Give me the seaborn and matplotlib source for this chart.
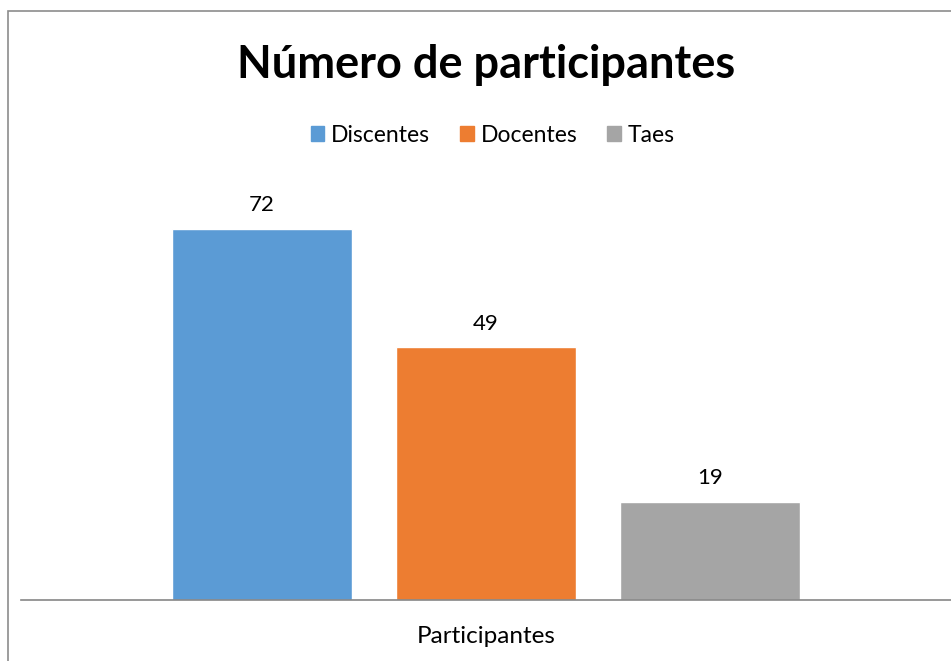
import pandas as pd
import matplotlib.pyplot as plt
import matplotlib.patches as mpatches
import seaborn as sns

# dados
categorias = ["Participantes"]
grupos = ["Discentes", "Docentes", "Taes"]
valores = [72, 49, 19]
cores = ["#5B9BD5", "#ED7D31", "#A5A5A5"]

df = pd.DataFrame({"categoria": categorias * len(grupos), "grupo": grupos, "valor": valores})

sns.set_style("white")
plt.rcParams['font.family'] = ['Lato', 'DejaVu Sans']
plt.rcParams['text.color'] = 'black'
plt.rcParams['xtick.color'] = 'black'

fig = plt.figure(figsize=(9.51, 6.61), dpi=100)
ax = fig.add_axes([21 / 951, 1 - 600 / 661, 930 / 951, 412.4 / 661])

sns.barplot(data=df, x="categoria", y="valor", hue="grupo", palette=cores,
            saturation=1, width=0.7226, gap=0.196, ax=ax, legend=False)

ax.set_ylim(0, 80)
ax.set_xlim(-0.5, 0.5)
for c in ax.containers:
    ax.bar_label(c, padding=10, fontsize=16, color="black")

for s in ["top", "right", "left"]:
    ax.spines[s].set_visible(False)
ax.spines["bottom"].set_color("#868686")
ax.spines["bottom"].set_linewidth(1.2)
ax.set_yticks([])
ax.set_ylabel("")
ax.set_xlabel("")
ax.tick_params(axis="x", length=0, labelsize=17.5, pad=19, labelcolor="black")

fig.text(0.511, 1 - 65 / 661, "Número de participantes", ha="center", va="center",
         fontsize=32.5, fontweight="bold", color="black")

handles = [mpatches.Patch(color=c, label=g) for g, c in zip(grupos, cores)]
fig.legend(handles=handles, loc="center", bbox_to_anchor=(0.518, 1 - 135 / 661), ncol=3,
           frameon=False, fontsize=16.5, handlelength=0.6, handleheight=0.6,
           handletextpad=0.3, columnspacing=1.3, labelcolor="black")

# moldura do gráfico
fig.patches.append(mpatches.Rectangle((8 / 951, -0.1), 1.2, 1 - 11 / 661 + 0.1,
                                      transform=fig.transFigure, fill=False,
                                      edgecolor="#8C8C8C", linewidth=1.2))

fig.savefig("out.png", dpi=100)
